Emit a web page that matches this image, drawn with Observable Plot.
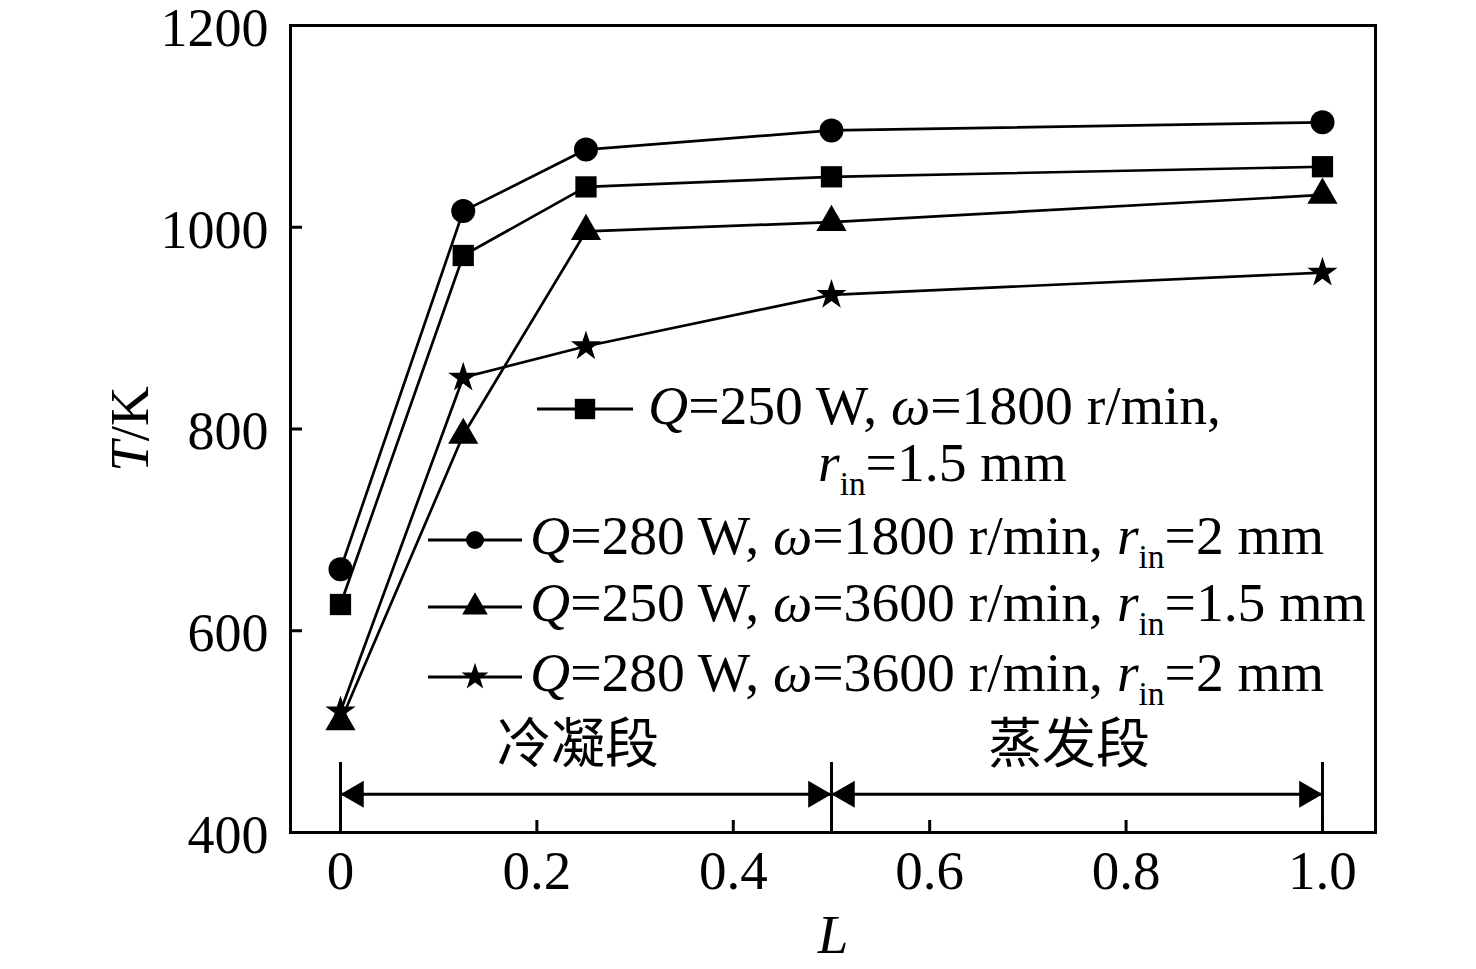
<!DOCTYPE html>
<html><head><meta charset="utf-8">
<script src="https://cdn.jsdelivr.net/npm/d3@7"></script>
<script src="https://cdn.jsdelivr.net/npm/@observablehq/plot@0.6"></script>
<style>
body{margin:0;background:#fff;}
#wrap{position:relative;width:1476px;height:969px;overflow:hidden;}
#wrap svg{position:absolute;left:0;top:0;}
</style></head><body><div id="wrap"></div>
<script>
// ---- data ----
const L = [0, 0.125, 0.25, 0.5, 1.0];
const Q = [250, 280, 250, 280];
const omega = [1800, 1800, 3600, 3600];
const rin = [1.5, 2, 1.5, 2];
const symbols = ["square", "circle", "triangle", "star"];
const T_q250_w1800 = [626, 972, 1040, 1050, 1060];
const T_q280_w1800 = [661, 1016, 1077, 1096, 1104];
const T_q250_w3600 = [510, 794, 996, 1005, 1032];
const T_q280_w3600 = [520, 851, 882, 933, 955];
const xTicks = [0, 0.2, 0.4, 0.6, 0.8, 1.0];
const xTickLabels = ["0", "0.2", "0.4", "0.6", "0.8", "1.0"];
const yTicks = [400, 600, 800, 1000, 1200];
const yTickLabels = ["400", "600", "800", "1000", "1200"];
const sectionBounds = [0, 0.5, 1.0];
const sectionLabels = ["冷凝段", "蒸发段"];

// ---- build ----
const seriesValues = [T_q250_w1800, T_q280_w1800, T_q250_w3600, T_q280_w3600];
const rows = seriesValues.flatMap((vals, i) => vals.map((T, j) => ({L: L[j], T, s: i})));
const sections = d3.pairs(sectionBounds).map(([a, b], i) => ({a, b, mid: (a + b) / 2, label: sectionLabels[i]}));
const arrowLevel = 438;
const dotR = {square: 12, circle: 12, triangle: 11.2, star: 9.5};

const serif = "'Liberation Serif', 'Times New Roman', serif";
const chart = Plot.plot({
  width: 1476, height: 969,
  marginLeft: 290, marginRight: 101, marginTop: 25, marginBottom: 137,
  x: {domain: [-0.0509, 1.054]},
  y: {domain: [400, 1200]},
  style: {fontFamily: serif, fontSize: "54px", color: "black", background: "white"},
  marks: [
    Plot.frame({stroke: "black", strokeWidth: 3}),
    Plot.axisY(yTicks, {anchor: "left", tickSize: 0, tickPadding: 22, fontSize: 54, dy: 3, label: null,
      tickFormat: d => yTickLabels[yTicks.indexOf(d)]}),
    Plot.axisY(yTicks, {anchor: "left", tickSize: -12, text: null, strokeWidth: 3, label: null}),
    Plot.axisX(xTicks, {anchor: "bottom", tickSize: 0, tickPadding: 17, fontSize: 55, label: null,
      tickFormat: d => xTickLabels[xTicks.indexOf(d)]}),
    Plot.axisX(xTicks, {anchor: "bottom", tickSize: -12, text: null, strokeWidth: 3, label: null}),
    Plot.ruleX(sectionBounds, {insetTop: 737, stroke: "black", strokeWidth: 3}),
    Plot.ruleY([arrowLevel], {x1: sectionBounds[0], x2: sectionBounds[sectionBounds.length - 1], stroke: "black", strokeWidth: 3}),
    Plot.dot(sections, {x: "a", y: () => arrowLevel, symbol: "triangle", r: 10, rotate: -90, dx: 15.5, fill: "black", stroke: "none"}),
    Plot.dot(sections, {x: "b", y: () => arrowLevel, symbol: "triangle", r: 10, rotate: 90, dx: -15.5, fill: "black", stroke: "none"}),
    Plot.text(sections, {x: "mid", frameAnchor: "bottom", dy: -87, dx: -8, text: "label", lineAnchor: "middle",
      fontFamily: "'Noto Sans CJK SC', sans-serif", fontSize: 54, fill: "black"}),
    Plot.line(rows, {x: "L", y: "T", z: "s", stroke: "black", strokeWidth: 2.7}),
    ...symbols.map((sym, i) => Plot.dot(rows.filter(d => d.s === i), {x: "L", y: "T", symbol: sym, r: dotR[sym], fill: "black", stroke: "none"})),
    Plot.text(["T/K"], {frameAnchor: "left", dx: -160, rotate: -90, textAnchor: "middle", lineAnchor: "middle", fontSize: 55, fill: "black"}),
    Plot.text(["L"], {frameAnchor: "bottom", dy: 103, lineAnchor: "middle", fontSize: 55, fontStyle: "italic", fill: "black"})
  ]
});
document.getElementById("wrap").appendChild(chart);

d3.select(chart).selectAll("text").filter(function() { return this.textContent === "T/K"; }).each(function() {
  this.textContent = "";
  d3.select(this).append("tspan").attr("font-style", "italic").text("T");
  d3.select(this).append("tspan").text("/K");
});

// ---- legend overlay ----
function segs(i) {
  return [
    [{t: "Q", it: true}, {t: `=${Q[i]} W, `}, {t: "ω", it: true}, {t: `=${omega[i]} r/min,`}],
    [{t: "r", it: true}, {t: "in", sub: true}, {t: `=${rin[i]} mm`}]
  ];
}
const legendLayout = [
  {line: [537, 633], y: 409, ms: 11.5, texts: [{x: 648, y: 424, part: 0}, {x: 818, y: 481, part: 1}]},
  {line: [428, 522], y: 540, ms: 9, texts: [{x: 530, y: 554, part: "all"}]},
  {line: [428, 522], y: 607, ms: 9.5, texts: [{x: 530, y: 621, part: "all"}]},
  {line: [428, 522], y: 677, ms: 8.5, texts: [{x: 530, y: 691, part: "all"}]}
];
const fontSize = 55.6;
const ov = d3.create("svg").attr("width", 1476).attr("height", 969)
  .style("pointer-events", "none").attr("font-family", serif).attr("font-size", fontSize);
legendLayout.forEach((lay, i) => {
  const g = ov.append("g");
  g.append("line").attr("x1", lay.line[0]).attr("x2", lay.line[1]).attr("y1", lay.y).attr("y2", lay.y)
    .attr("stroke", "black").attr("stroke-width", 3);
  const symMap = {square: d3.symbolSquare, circle: d3.symbolCircle, triangle: d3.symbolTriangle, star: d3.symbolStar};
  g.append("path").attr("d", d3.symbol(symMap[symbols[i]], Math.PI * lay.ms * lay.ms)())
    .attr("transform", `translate(${(lay.line[0] + lay.line[1]) / 2},${lay.y})`).attr("fill", "black");
  const parts = segs(i);
  lay.texts.forEach(tx => {
    let list;
    if (tx.part === "all") list = [...parts[0], {t: " "}, ...parts[1]];
    else list = parts[tx.part];
    const text = g.append("text").attr("x", tx.x).attr("y", tx.y).attr("fill", "black").style("white-space", "pre");
    let shifted = false;
    list.forEach(s => {
      const ts = text.append("tspan").text(s.t);
      if (s.it) ts.attr("font-style", "italic");
      if (s.sub) { ts.attr("font-size", fontSize * 0.6).attr("dy", 14); shifted = true; }
      else if (shifted) { ts.attr("dy", -14); shifted = false; }
    });
  });
});
document.getElementById("wrap").appendChild(ov.node());
</script>
</body></html>
